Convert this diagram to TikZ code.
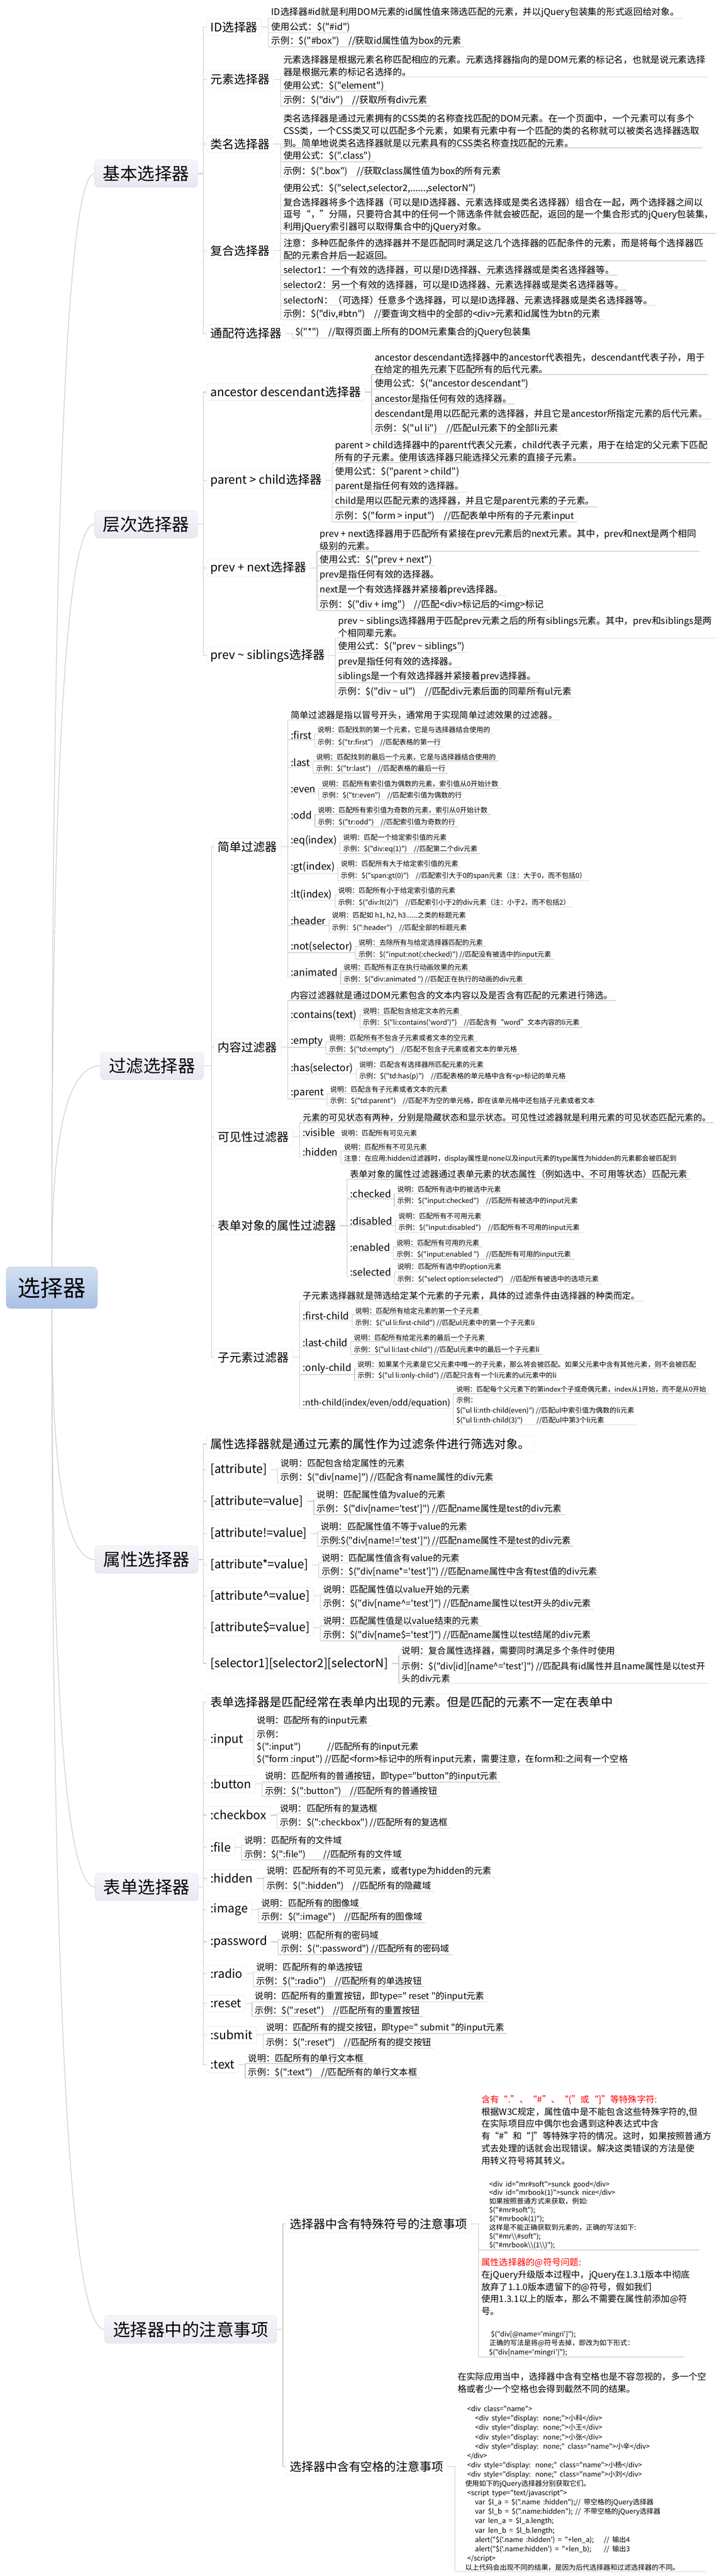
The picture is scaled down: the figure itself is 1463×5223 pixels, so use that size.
\documentclass[tikz,border=0pt]{standalone}
\usepackage{fontspec}
\newfontfamily\zh{Noto Sans CJK SC}
\usetikzlibrary{calc}
\definecolor{linkgray}{HTML}{C9C9C9}
\definecolor{ulgray}{HTML}{D7D7D7}
\definecolor{toptop}{HTML}{F5F5FA}
\definecolor{topbot}{HTML}{E8E8F2}
\definecolor{topline}{HTML}{D9D9E4}
\definecolor{subline}{HTML}{DDDDDD}
\definecolor{roottop}{HTML}{D3E0F2}
\definecolor{rootbot}{HTML}{A8C0E6}
\definecolor{rootline}{HTML}{A3B9DC}
\tikzset{
  root/.style={draw=rootline, top color=roottop, bottom color=rootbot, rounded corners=9pt, minimum width=185pt, minimum height=84pt, font=\zh\fontsize{46}{50}\selectfont},
  topic/.style={draw=topline, top color=toptop, bottom color=topbot, rounded corners=8pt, anchor=east, minimum height=56pt, inner xsep=17pt, inner ysep=2pt, font=\zh\fontsize{35}{40}\selectfont},
  sub/.style={draw=subline, fill=white, rounded corners=5pt, anchor=west, minimum height=34pt, inner xsep=8pt, inner ysep=2pt, font=\zh\fontsize{24}{28}\selectfont},
  leafbase/.style={anchor=south west, inner xsep=6pt, inner ysep=1.5pt, align=left, font=\zh\fontsize{18}{25}\selectfont, append after command={(\tikzlastnode.south west) edge[uline] (\tikzlastnode.south east)}},
  leaf/.style={leafbase, xshift=13.5pt},
  bigleaf/.style={leaf, font=\zh\fontsize{18.5}{25}\selectfont},
  flabel/.style={leaf, font=\zh\fontsize{20}{24}\selectfont},
  tiny/.style={leafbase, font=\zh\fontsize{14}{20.3}\selectfont},
  note/.style={leafbase, xshift=14.5pt},
  link/.style={draw=linkgray, line width=1.2pt},
  uline/.style={draw=ulgray, line width=1.5pt},
}
\begin{document}
\begin{tikzpicture}[x=1pt,y=-1pt]
\path[fill=white, use as bounding box] (0,0) rectangle (1463,5223);

\node[root] (root) at (105,2611) {选择器};
\node[topic] (jiben) at (401,352) {基本选择器};
\node[topic] (cengci) at (401,1063) {层次选择器};
\node[topic] (guolv) at (413,2161) {过滤选择器};
\node[topic] (shuxing) at (402,3162) {属性选择器};
\node[topic] (biaodan) at (402,3826) {表单选择器};
\node[topic] (zhuyi) at (561,4723) {选择器中的注意事项};

\node[sub] (idsel) at (418.5,55) {ID选择器};
\node[bigleaf] (i1) at (idsel.east |- 0,37) {ID选择器\#id就是利用DOM元素的id属性值来筛选匹配的元素，并以jQuery包装集的形式返回给对象。};
\node[bigleaf] (i2) at (idsel.east |- 0,66.5) {使用公式：\$("\#id")};
\node[bigleaf] (i3) at (idsel.east |- 0,95) {示例：\$("\#box")\quad //获取id属性值为box的元素};
\node[sub] (elsel) at (418.5,161) {元素选择器};
\node[bigleaf] (e1) at (elsel.east |- 0,156) {元素选择器是根据元素名称匹配相应的元素。元素选择器指向的是DOM元素的标记名，也就是说元素选择\\器是根据元素的标记名选择的。};
\node[bigleaf] (e2) at (elsel.east |- 0,185) {使用公式：\$("element")};
\node[bigleaf] (e3) at (elsel.east |- 0,215) {示例：\$("div")\quad //获取所有div元素};
\node[sub] (clsel) at (418.5,292) {类名选择器};
\node[bigleaf] (c1) at (clsel.east |- 0,300) {类名选择器是通过元素拥有的CSS类的名称查找匹配的DOM元素。在一个页面中，一个元素可以有多个\\CSS类，一个CSS类又可以匹配多个元素，如果有元素中有一个匹配的类的名称就可以被类名选择器选取\\到。简单地说类名选择器就是以元素具有的CSS类名称查找匹配的元素。};
\node[bigleaf] (c2) at (clsel.east |- 0,328) {使用公式：\$(".class")};
\node[bigleaf] (c3) at (clsel.east |- 0,359) {示例：\$(".box")\quad //获取class属性值为box的所有元素};
\node[sub] (cmsel) at (418.5,508) {复合选择器};
\node[bigleaf] (m1) at (cmsel.east |- 0,393) {使用公式：\$("select,selector2,......,selectorN")};
\node[bigleaf] (m2) at (cmsel.east |- 0,473) {复合选择器将多个选择器（可以是ID选择器、元素选择或是类名选择器）组合在一起，两个选择器之间以\\逗号“，”分隔，只要符合其中的任何一个筛选条件就会被匹配，返回的是一个集合形式的jQuery包装集，\\利用jQuery索引器可以取得集合中的jQuery对象。};
\node[bigleaf] (m3) at (cmsel.east |- 0,528.5) {注意：多种匹配条件的选择器并不是匹配同时满足这几个选择器的匹配条件的元素，而是将每个选择器匹\\配的元素合并后一起返回。};
\node[bigleaf] (m4) at (cmsel.east |- 0,558) {selector1：一个有效的选择器，可以是ID选择器、元素选择器或是类名选择器等。};
\node[bigleaf] (m5) at (cmsel.east |- 0,588) {selector2：另一个有效的选择器，可以是ID选择器、元素选择器或是类名选择器等。};
\node[bigleaf] (m6) at (cmsel.east |- 0,619) {selectorN：（可选择）任意多个选择器，可以是ID选择器、元素选择器或是类名选择器等。};
\node[bigleaf] (m7) at (cmsel.east |- 0,648) {示例：\$("div,\#btn")\quad //要查询文档中的全部的<div>元素和id属性为btn的元素};
\node[sub] (allsel) at (418.5,676) {通配符选择器};
\node[bigleaf] (w1) at (allsel.east |- 0,686) {\$("*")\quad //取得页面上所有的DOM元素集合的jQuery包装集};

\node[sub] (anc) at (418.5,795) {ancestor descendant选择器};
\node[bigleaf] (n1) at (anc.east |- 0,759.5) {ancestor descendant选择器中的ancestor代表祖先，descendant代表子孙，用于\\在给定的祖先元素下匹配所有的后代元素。};
\node[bigleaf] (n2) at (anc.east |- 0,789) {使用公式：\$("ancestor descendant")};
\node[bigleaf] (n3) at (anc.east |- 0,819) {ancestor是指任何有效的选择器。};
\node[bigleaf] (n4) at (anc.east |- 0,849.5) {descendant是用以匹配元素的选择器，并且它是ancestor所指定元素的后代元素。};
\node[bigleaf] (n5) at (anc.east |- 0,880) {示例：\$("ul li")\quad //匹配ul元素下的全部li元素};
\node[sub] (pcs) at (418.5,974) {parent > child选择器};
\node[bigleaf] (p1) at (pcs.east |- 0,938) {parent > child选择器中的parent代表父元素，child代表子元素，用于在给定的父元素下匹配\\所有的子元素。使用该选择器只能选择父元素的直接子元素。};
\node[bigleaf] (p2) at (pcs.east |- 0,968) {使用公式：\$("parent > child")};
\node[bigleaf] (p3) at (pcs.east |- 0,998) {parent是指任何有效的选择器。};
\node[bigleaf] (p4) at (pcs.east |- 0,1028) {child是用以匹配元素的选择器，并且它是parent元素的子元素。};
\node[bigleaf] (p5) at (pcs.east |- 0,1058) {示例：\$("form > input")\quad //匹配表单中所有的子元素input};
\node[sub] (prv) at (418.5,1152) {prev + next选择器};
\node[bigleaf] (q1) at (prv.east |- 0,1117.5) {prev + next选择器用于匹配所有紧接在prev元素后的next元素。其中，prev和next是两个相同\\级别的元素。};
\node[bigleaf] (q2) at (prv.east |- 0,1147) {使用公式：\$("prev + next")};
\node[bigleaf] (q3) at (prv.east |- 0,1177.5) {prev是指任何有效的选择器。};
\node[bigleaf] (q4) at (prv.east |- 0,1208) {next是一个有效选择器并紧接着prev选择器。};
\node[bigleaf] (q5) at (prv.east |- 0,1238) {示例：\$("div + img")\quad //匹配<div>标记后的<img>标记};
\node[sub] (sib) at (418.5,1329) {prev \textasciitilde{} siblings选择器};
\node[bigleaf] (s1) at (sib.east |- 0,1293.6) {prev \textasciitilde{} siblings选择器用于匹配prev元素之后的所有siblings元素。其中，prev和siblings是两\\个相同辈元素。};
\node[bigleaf] (s2) at (sib.east |- 0,1323) {使用公式：\$("prev \textasciitilde{} siblings")};
\node[bigleaf] (s3) at (sib.east |- 0,1353.5) {prev是指任何有效的选择器。};
\node[bigleaf] (s4) at (sib.east |- 0,1384) {siblings是一个有效选择器并紧接着prev选择器。};
\node[bigleaf] (s5) at (sib.east |- 0,1414) {示例：\$("div \textasciitilde{} ul")\quad //匹配div元素后面的同辈所有ul元素};

\node[sub] (simple) at (433.5,1717) {简单过滤器};
\node[leaf] (sd) at (simple.east |- 0,1460) {简单过滤器是指以冒号开头，通常用于实现简单过滤效果的过滤器。};
\node[flabel] (fst) at (simple.east |- 0,1500) {:first};
\node[tiny] (fsta) at (fst.south east |- 0,1488) {说明：匹配找到的第一个元素，它是与选择器结合使用的};
\node[tiny] (fstb) at (fst.south east |- 0,1514) {示例：\$("tr:first")\quad //匹配表格的第一行};
\node[flabel] (lst) at (simple.east |- 0,1556) {:last};
\node[tiny] (lsta) at (lst.south east |- 0,1543) {说明：匹配找到的最后一个元素，它是与选择器结合使用的};
\node[tiny] (lstb) at (lst.south east |- 0,1568) {示例：\$("tr:last")\quad //匹配表格的最后一行};
\node[flabel] (evn) at (simple.east |- 0,1609) {:even};
\node[tiny] (evna) at (evn.south east |- 0,1598) {说明：匹配所有索引值为偶数的元素，索引值从0开始计数};
\node[tiny] (evnb) at (evn.south east |- 0,1622) {示例：\$("tr:even")\quad //匹配索引值为偶数的行};
\node[flabel] (od) at (simple.east |- 0,1662.6) {:odd};
\node[tiny] (oda) at (od.south east |- 0,1651.5) {说明：匹配所有索引值为奇数的元素，索引从0开始计数};
\node[tiny] (odb) at (od.south east |- 0,1676.6) {示例：\$("tr:odd")\quad //匹配索引值为奇数的行};
\node[flabel] (eqi) at (simple.east |- 0,1717) {:eq(index)};
\node[tiny] (eqia) at (eqi.south east |- 0,1706.5) {说明：匹配一个给定索引值的元素};
\node[tiny] (eqib) at (eqi.south east |- 0,1731) {示例：\$("div:eq(1)")\quad //匹配第二个div元素};
\node[flabel] (gti) at (simple.east |- 0,1771) {:gt(index)};
\node[tiny] (gtia) at (gti.south east |- 0,1759.6) {说明：匹配所有大于给定索引值的元素};
\node[tiny] (gtib) at (gti.south east |- 0,1785.5) {示例：\$("span:gt(0)")\quad //匹配索引大于0的span元素（注：大于0，而不包括0）};
\node[flabel] (lti) at (simple.east |- 0,1825.6) {:lt(index)};
\node[tiny] (ltia) at (lti.south east |- 0,1814) {说明：匹配所有小于给定索引值的元素};
\node[tiny] (ltib) at (lti.south east |- 0,1839) {示例：\$("div:lt(2)")\quad //匹配索引小于2的div元素（注：小于2，而不包括2）};
\node[flabel] (hdr) at (simple.east |- 0,1876) {:header};
\node[tiny] (hdra) at (hdr.south east |- 0,1865) {说明：匹配如 h1, h2, h3......之类的标题元素};
\node[tiny] (hdrb) at (hdr.south east |- 0,1890) {示例：\$(":header")\quad //匹配全部的标题元素};
\node[flabel] (nts) at (simple.east |- 0,1931.5) {:not(selector)};
\node[tiny] (ntsa) at (nts.south east |- 0,1919) {说明：去除所有与给定选择器匹配的元素};
\node[tiny] (ntsb) at (nts.south east |- 0,1945) {示例：\$("input:not(:checked)") //匹配没有被选中的input元素};
\node[flabel] (ani) at (simple.east |- 0,1981) {:animated};
\node[tiny] (ania) at (ani.south east |- 0,1969) {说明：匹配所有正在执行动画效果的元素};
\node[tiny] (anib) at (ani.south east |- 0,1995) {示例：\$("div:animated ") //匹配正在执行的动画的div元素};

\node[sub] (content) at (433.5,2123) {内容过滤器};
\node[leaf] (cd) at (content.east |- 0,2028.5) {内容过滤器就是通过DOM元素包含的文本内容以及是否含有匹配的元素进行筛选。};
\node[flabel] (ctn) at (content.east |- 0,2070) {:contains(text)};
\node[tiny] (ctna) at (ctn.south east |- 0,2058) {说明：匹配包含给定文本的元素};
\node[tiny] (ctnb) at (ctn.south east |- 0,2083) {示例：\$("li:contains('word')")\quad //匹配含有“word”文本内容的li元素};
\node[flabel] (emp) at (content.east |- 0,2123.6) {:empty};
\node[tiny] (empa) at (emp.south east |- 0,2112) {说明：匹配所有不包含子元素或者文本的空元素};
\node[tiny] (empb) at (emp.south east |- 0,2137) {示例：\$("td:empty")\quad //匹配不包含子元素或者文本的单元格};
\node[flabel] (has) at (content.east |- 0,2177.5) {:has(selector)};
\node[tiny] (hasa) at (has.south east |- 0,2166.7) {说明：匹配含有选择器所匹配元素的元素};
\node[tiny] (hasb) at (has.south east |- 0,2192) {示例：\$("td:has(p)")\quad //匹配表格的单元格中含有<p>标记的单元格};
\node[flabel] (prt) at (content.east |- 0,2228) {:parent};
\node[tiny] (prta) at (prt.south east |- 0,2217) {说明：匹配含有子元素或者文本的元素};
\node[tiny] (prtb) at (prt.south east |- 0,2242) {示例：\$("td:parent")\quad //匹配不为空的单元格，即在该单元格中还包括子元素或者文本};

\node[sub] (visible) at (433.5,2305) {可见性过滤器};
\node[leaf, font=\zh\fontsize{17.6}{24}\selectfont] (vd) at (visible.east |- 0,2276) {元素的可见状态有两种，分别是隐藏状态和显示状态。可见性过滤器就是利用元素的可见状态匹配元素的。};
\node[flabel] (vis) at (visible.east |- 0,2306) {:visible};
\node[tiny] (visa) at (vis.south east |- 0,2306) {说明：匹配所有可见元素};
\node[flabel] (hid) at (visible.east |- 0,2345.5) {:hidden};
\node[tiny] (hida) at (hid.south east |- 0,2333.6) {说明：匹配所有不可见元素};
\node[tiny] (hidb) at (hid.south east |- 0,2359) {注意：在应用:hidden过滤器时，display属性是none以及input元素的type属性为hidden的元素都会被匹配到};

\node[sub] (formattr) at (433.5,2485) {表单对象的属性过滤器};
\node[leaf] (fd) at (formattr.east |- 0,2391) {表单对象的属性过滤器通过表单元素的状态属性（例如选中、不可用等状态）匹配元素};
\node[flabel] (chk) at (formattr.east |- 0,2430.6) {:checked};
\node[tiny] (chka) at (chk.south east |- 0,2420) {说明：匹配所有选中的被选中元素};
\node[tiny] (chkb) at (chk.south east |- 0,2445) {示例：\$("input:checked")\quad //匹配所有被选中的input元素};
\node[flabel] (dis) at (formattr.east |- 0,2485) {:disabled};
\node[tiny] (disa) at (dis.south east |- 0,2474) {说明：匹配所有不可用元素};
\node[tiny] (disb) at (dis.south east |- 0,2499) {示例：\$("input:disabled")\quad //匹配所有不可用的input元素};
\node[flabel] (ena) at (formattr.east |- 0,2539) {:enabled};
\node[tiny] (enaa) at (ena.south east |- 0,2528) {说明：匹配所有可用的元素};
\node[tiny] (enab) at (ena.south east |- 0,2553) {示例：\$("input:enabled ")\quad //匹配所有可用的input元素};
\node[flabel] (slc) at (formattr.east |- 0,2589) {:selected};
\node[tiny] (slca) at (slc.south east |- 0,2578.5) {说明：匹配所有选中的option元素};
\node[tiny] (slcb) at (slc.south east |- 0,2603.6) {示例：\$("select option:selected")\quad //匹配所有被选中的选项元素};

\node[sub] (chf) at (433.5,2752) {子元素过滤器};
\node[leaf] (chd) at (chf.east |- 0,2638) {子元素选择器就是筛选给定某个元素的子元素，具体的过滤条件由选择器的种类而定。};
\node[flabel] (fch) at (chf.east |- 0,2678) {:first-child};
\node[tiny] (fcha) at (fch.south east |- 0,2666) {说明：匹配所有给定元素的第一个子元素};
\node[tiny] (fchb) at (fch.south east |- 0,2691.6) {示例：\$("ul li:first-child") //匹配ul元素中的第一个子元素li};
\node[flabel] (lch) at (chf.east |- 0,2732) {:last-child};
\node[tiny] (lcha) at (lch.south east |- 0,2720) {说明：匹配所有给定元素的最后一个子元素};
\node[tiny] (lchb) at (lch.south east |- 0,2746) {示例：\$("ul li:last-child") //匹配ul元素中的最后一个子元素li};
\node[flabel] (och) at (chf.east |- 0,2787) {:only-child};
\node[tiny] (ocha) at (och.south east |- 0,2775) {说明：如果某个元素是它父元素中唯一的子元素，那么将会被匹配。如果父元素中含有其他元素，则不会被匹配};
\node[tiny] (ochb) at (och.south east |- 0,2799) {示例：\$("ul li:only-child") //匹配只含有一个li元素的ul元素中的li};
\node[flabel, font=\zh\fontsize{17.5}{24}\selectfont] (nch) at (chf.east |- 0,2855.6) {:nth-child(index/even/odd/equation)};
\node[tiny, font=\zh\fontsize{13.6}{20.3}\selectfont] (ncha) at (nch.south east |- 0,2825.5) {说明：匹配每个父元素下的第index个子或奇偶元素，index从1开始，而不是从0开始};
\node[tiny] (nchb) at (nch.south east |- 0,2889) {示例：\\\$("ul li:nth-child(even)") //匹配ul中索引值为偶数的li元素\\\$("ul li:nth-child(3)")\qquad //匹配ul中第3个li元素};

\node[sub] (adesc) at (418.5,2928) {属性选择器就是通过元素的属性作为过滤条件进行筛选对象。};
\node[sub] (at1) at (418.5,2980) {[attribute]};
\node[leaf] (at1a) at (at1.east |- 0,2976.6) {说明：匹配包含给定属性的元素};
\node[leaf] (at1b) at (at1.east |- 0,3007) {示例：\$("div[name]") //匹配含有name属性的div元素};
\node[sub] (at2) at (418.5,3044) {[attribute=value]};
\node[leaf] (at2a) at (at2.east |- 0,3040.5) {说明：匹配属性值为value的元素};
\node[leaf] (at2b) at (at2.east |- 0,3071) {示例：\$("div[name='test']") //匹配name属性是test的div元素};
\node[sub] (at3) at (418.5,3109) {[attribute!=value]};
\node[leaf] (at3a) at (at3.east |- 0,3105) {说明：匹配属性值不等于value的元素};
\node[leaf] (at3b) at (at3.east |- 0,3135) {示例:\$("div[name!='test']") //匹配name属性不是test的div元素};
\node[sub] (at4) at (418.5,3172.6) {[attribute*=value]};
\node[leaf] (at4a) at (at4.east |- 0,3169) {说明：匹配属性值含有value的元素};
\node[leaf] (at4b) at (at4.east |- 0,3198.5) {示例：\$("div[name*='test']") //匹配name属性中含有test值的div元素};
\node[sub] (at5) at (418.5,3236) {[attribute\textasciicircum=value]};
\node[leaf] (at5a) at (at5.east |- 0,3232.6) {说明：匹配属性值以value开始的元素};
\node[leaf] (at5b) at (at5.east |- 0,3263) {示例：\$("div[name\textasciicircum='test']") //匹配name属性以test开头的div元素};
\node[sub] (at6) at (418.5,3300) {[attribute\$=value]};
\node[leaf] (at6a) at (at6.east |- 0,3296.5) {说明：匹配属性值是以value结束的元素};
\node[leaf] (at6b) at (at6.east |- 0,3327) {示例：\$("div[name\$='test']") //匹配name属性以test结尾的div元素};
\node[sub] (at7) at (418.5,3373) {[selector1][selector2][selectorN]};
\node[leaf] (at7a) at (at7.east |- 0,3357) {说明：复合属性选择器，需要同时满足多个条件时使用};
\node[leaf] (at7b) at (at7.east |- 0,3413) {示例：\$("div[id][name\textasciicircum='test']") //匹配具有id属性并且name属性是以test开\\头的div元素};

\node[sub] (fdesc) at (418.5,3451) {表单选择器是匹配经常在表单内出现的元素。但是匹配的元素不一定在表单中};
\node[sub] (fin) at (418.5,3527.7) {:input};
\node[leaf] (fina) at (fin.east |- 0,3500) {说明：匹配所有的input元素};
\node[leaf] (finb) at (fin.east |- 0,3579) {示例：\\\$(":input")\qquad\quad //匹配所有的input元素\\\$("form :input") //匹配<form>标记中的所有input元素，需要注意，在form和:之间有一个空格};
\node[sub] (fbt) at (418.5,3617) {:button};
\node[leaf] (fbta) at (fbt.east |- 0,3613) {说明：匹配所有的普通按钮，即type="button"的input元素};
\node[leaf] (fbtb) at (fbt.east |- 0,3642.6) {示例：\$(":button")\quad //匹配所有的普通按钮};
\node[sub] (fcb) at (418.5,3680) {:checkbox};
\node[leaf] (fcba) at (fcb.east |- 0,3676.7) {说明：匹配所有的复选框};
\node[leaf] (fcbb) at (fcb.east |- 0,3706.5) {示例：\$(":checkbox") //匹配所有的复选框};
\node[sub] (ffl) at (418.5,3745) {:file};
\node[leaf] (ffla) at (ffl.east |- 0,3741) {说明：匹配所有的文件域};
\node[leaf] (fflb) at (ffl.east |- 0,3771) {示例：\$(":file")\qquad //匹配所有的文件域};
\node[sub] (fhd) at (418.5,3808.5) {:hidden};
\node[leaf] (fhda) at (fhd.east |- 0,3806) {说明：匹配所有的不可见元素，或者type为hidden的元素};
\node[leaf] (fhdb) at (fhd.east |- 0,3835) {示例：\$(":hidden")\quad //匹配所有的隐藏域};
\node[sub] (fim) at (418.5,3872) {:image};
\node[leaf] (fima) at (fim.east |- 0,3869) {说明：匹配所有的图像域};
\node[leaf] (fimb) at (fim.east |- 0,3898.5) {示例：\$(":image")\quad //匹配所有的图像域};
\node[sub] (fpw) at (418.5,3937) {:password};
\node[leaf] (fpwa) at (fpw.east |- 0,3933) {说明：匹配所有的密码域};
\node[leaf] (fpwb) at (fpw.east |- 0,3963) {示例：\$(":password") //匹配所有的密码域};
\node[sub] (frd) at (418.5,4001) {:radio};
\node[leaf] (frda) at (frd.east |- 0,3998) {说明：匹配所有的单选按钮};
\node[leaf] (frdb) at (frd.east |- 0,4028) {示例：\$(":radio")\quad //匹配所有的单选按钮};
\node[sub] (frs) at (418.5,4062) {:reset};
\node[leaf] (frsa) at (frs.east |- 0,4059) {说明：匹配所有的重置按钮，即type=" reset "的input元素};
\node[leaf] (frsb) at (frs.east |- 0,4088.5) {示例：\$(":reset")\quad //匹配所有的重置按钮};
\node[sub] (fsb) at (418.5,4126) {:submit};
\node[leaf] (fsba) at (fsb.east |- 0,4123) {说明：匹配所有的提交按钮，即type=" submit "的input元素};
\node[leaf] (fsbb) at (fsb.east |- 0,4153) {示例：\$(":reset")\quad //匹配所有的提交按钮};
\node[sub] (ftx) at (418.5,4186) {:text};
\node[leaf] (ftxa) at (ftx.east |- 0,4183.6) {说明：匹配所有的单行文本框};
\node[leaf] (ftxb) at (ftx.east |- 0,4213) {示例：\$(":text")\quad //匹配所有的单行文本框};

\node[sub] (sp) at (579,4509) {选择器中含有特殊符号的注意事项};
\node[note, text width=435pt] (sp1) at (sp.east |- 0,4561.6) {\fontsize{18}{25}\selectfont
\textcolor{red}{含有“.”、“\#”、“(”或“]”等特殊字符:}\\
根据W3C规定，属性值中是不能包含这些特殊字符的,但\\
在实际项目应中偶尔也会遇到这种表达式中含\\
有“\#”和“]”等特殊字符的情况。这时，如果按照普通方\\
式去处理的话就会出现错误。解决这类错误的方法是使\\
用转义符号将其转义。\par
\vspace{27.5pt}\fontsize{14}{17.7}\selectfont
\hspace*{15.5pt}<div id="mr\#soft">sunck good</div>\\
\hspace*{15.5pt}<div id="mrbook(1)">sunck nice</div>\\
\hspace*{15.5pt}如果按照普通方式来获取，例如:\\
\hspace*{15.5pt}\$("\#mr\#soft");\\
\hspace*{15.5pt}\$("\#mrbook(1)");\\
\hspace*{15.5pt}这样是不能正确获取到元素的，正确的写法如下:\\
\hspace*{15.5pt}\$("\#mr\textbackslash\textbackslash\#soft");\\
\hspace*{15.5pt}\$("\#mrbook\textbackslash\textbackslash(1\textbackslash\textbackslash)");\par
\vspace*{10.5pt}};
\node[note, text width=404pt] (sp2) at (sp.east |- 0,4779) {\fontsize{18}{25}\selectfont
\textcolor{red}{属性选择器的@符号问题:}\\
在jQuery升级版本过程中，jQuery在1.3.1版本中彻底\\
放弃了1.1.0版本遗留下的@符号，假如我们\\
使用1.3.1以上的版本，那么不需要在属性前添加@符\\
号。\par
\vspace{26pt}\fontsize{14}{18.2}\selectfont
\hspace*{19pt}\$("div[@name='mingri']");\\
\hspace*{16pt}正确的写法是将@符号去掉，即改为如下形式：\\
\hspace*{15pt}\$("div[name='mingri']");\par
\vspace*{10.5pt}};
\node[sub] (spc) at (579,5001) {选择器中含有空格的注意事项};
\node[note, text width=497pt] (spc1) at (spc.east |- 0,5214) {\fontsize{18}{25}\selectfont
在实际应用当中，选择器中含有空格也是不容忽视的，多一个空\\
格或者少一个空格也会得到截然不同的结果。\par
\vspace{20.2pt}\fontsize{14}{18.9}\selectfont
\hspace*{19pt}<div class="name">\\
\hspace*{35pt}<div style="display: none;">小科</div>\\
\hspace*{35pt}<div style="display: none;">小王</div>\\
\hspace*{35pt}<div style="display: none;">小张</div>\\
\hspace*{35pt}<div style="display: none;" class="name">小辛</div>\\
\hspace*{19pt}</div>\\
\hspace*{19pt}<div style="display: none;" class="name">小杨</div>\\
\hspace*{19pt}<div style="display: none;" class="name">小刘</div>\\
\hspace*{15pt}使用如下的jQuery选择器分别获取它们。\\
\hspace*{19pt}<script type="text/javascript">\\
\hspace*{35pt}\makebox[203pt][l]{var \$l\_a = \$(".name :hidden");}// 带空格的jQuery选择器\\
\hspace*{35pt}\makebox[203pt][l]{var \$l\_b = \$(".name:hidden");}// 不带空格的jQuery选择器\\
\hspace*{35pt}var len\_a = \$l\_a.length;\\
\hspace*{35pt}var len\_b = \$l\_b.length;\\
\hspace*{35pt}\makebox[261pt][l]{alert("\$('.name :hidden') = "+len\_a);}// 输出4\\
\hspace*{35pt}\makebox[261pt][l]{alert("\$('.name:hidden') = "+len\_b);}// 输出3\\
\hspace*{19pt}</script>\\
\hspace*{15pt}以上代码会出现不同的结果，是因为后代选择器和过滤选择器的不同。\par
\vspace*{16.5pt}};

\draw[link] (root.north) .. controls ($(root.north)!.67!(root.north |- jiben.west)$) and ($(jiben.west)!.67!(root.north |- jiben.west)$) .. (jiben.west);
\draw[link] (root.north) .. controls ($(root.north)!.67!(root.north |- cengci.west)$) and ($(cengci.west)!.67!(root.north |- cengci.west)$) .. (cengci.west);
\draw[link] (root.north) .. controls ($(root.north)!.67!(root.north |- guolv.west)$) and ($(guolv.west)!.67!(root.north |- guolv.west)$) .. (guolv.west);
\draw[link] (root.south) .. controls ($(root.south)!.67!(root.south |- shuxing.west)$) and ($(shuxing.west)!.67!(root.south |- shuxing.west)$) .. (shuxing.west);
\draw[link] (root.south) .. controls ($(root.south)!.67!(root.south |- biaodan.west)$) and ($(biaodan.west)!.67!(root.south |- biaodan.west)$) .. (biaodan.west);
\draw[link] (root.south) .. controls ($(root.south)!.67!(root.south |- zhuyi.west)$) and ($(zhuyi.west)!.67!(root.south |- zhuyi.west)$) .. (zhuyi.west);

\draw[link] (jiben.east) -- ++(11.5,0) |- (idsel.west) (jiben.east) -- ++(11.5,0) |- (elsel.west) (jiben.east) -- ++(11.5,0) |- (clsel.west) (jiben.east) -- ++(11.5,0) |- (cmsel.west) (jiben.east) -- ++(11.5,0) |- (allsel.west);
\draw[link] (cengci.east) -- ++(11.5,0) |- (anc.west) (cengci.east) -- ++(11.5,0) |- (pcs.west) (cengci.east) -- ++(11.5,0) |- (prv.west) (cengci.east) -- ++(11.5,0) |- (sib.west);
\draw[link] (guolv.east) -- ++(16,0) |- (simple.west) (guolv.east) -- ++(16,0) |- (content.west) (guolv.east) -- ++(16,0) |- (visible.west) (guolv.east) -- ++(16,0) |- (formattr.west) (guolv.east) -- ++(16,0) |- (chf.west);
\draw[link] (shuxing.east) -- ++(10.5,0) |- (adesc.west) (shuxing.east) -- ++(10.5,0) |- (at1.west) (shuxing.east) -- ++(10.5,0) |- (at2.west) (shuxing.east) -- ++(10.5,0) |- (at3.west) (shuxing.east) -- ++(10.5,0) |- (at4.west) (shuxing.east) -- ++(10.5,0) |- (at5.west) (shuxing.east) -- ++(10.5,0) |- (at6.west) (shuxing.east) -- ++(10.5,0) |- (at7.west);
\draw[link] (biaodan.east) -- ++(10.5,0) |- (fdesc.west) (biaodan.east) -- ++(10.5,0) |- (fin.west) (biaodan.east) -- ++(10.5,0) |- (fbt.west) (biaodan.east) -- ++(10.5,0) |- (fcb.west) (biaodan.east) -- ++(10.5,0) |- (ffl.west) (biaodan.east) -- ++(10.5,0) |- (fhd.west) (biaodan.east) -- ++(10.5,0) |- (fim.west) (biaodan.east) -- ++(10.5,0) |- (fpw.west) (biaodan.east) -- ++(10.5,0) |- (frd.west) (biaodan.east) -- ++(10.5,0) |- (frs.west) (biaodan.east) -- ++(10.5,0) |- (fsb.west) (biaodan.east) -- ++(10.5,0) |- (ftx.west);
\draw[link] (zhuyi.east) -- ++(12.5,0) |- (sp.west) (zhuyi.east) -- ++(12.5,0) |- (spc.west);

\draw[link] (idsel.east) -| (i1.south west) (idsel.east) -| (i2.south west) (idsel.east) -| (i3.south west);
\draw[link] (elsel.east) -| (e1.south west) (elsel.east) -| (e2.south west) (elsel.east) -| (e3.south west);
\draw[link] (clsel.east) -| (c1.south west) (clsel.east) -| (c2.south west) (clsel.east) -| (c3.south west);
\draw[link] (cmsel.east) -| (m1.south west) (cmsel.east) -| (m4.south west) (cmsel.east) -| (m7.south west);
\draw[link] (allsel.east) -| (w1.south west);
\draw[link] (anc.east) -| (n1.south west) (anc.east) -| (n5.south west);
\draw[link] (pcs.east) -| (p1.south west) (pcs.east) -| (p5.south west);
\draw[link] (prv.east) -| (q1.south west) (prv.east) -| (q5.south west);
\draw[link] (sib.east) -| (s1.south west) (sib.east) -| (s5.south west);

\draw[link] (simple.east) -| (sd.south west) (simple.east) -| (ani.south west);
\draw[link] (fst.south east) -| (fsta.south west) (fst.south east) -| (fstb.south west);
\draw[link] (lst.south east) -| (lsta.south west) (lst.south east) -| (lstb.south west);
\draw[link] (evn.south east) -| (evna.south west) (evn.south east) -| (evnb.south west);
\draw[link] (od.south east) -| (oda.south west) (od.south east) -| (odb.south west);
\draw[link] (eqi.south east) -| (eqia.south west) (eqi.south east) -| (eqib.south west);
\draw[link] (gti.south east) -| (gtia.south west) (gti.south east) -| (gtib.south west);
\draw[link] (lti.south east) -| (ltia.south west) (lti.south east) -| (ltib.south west);
\draw[link] (hdr.south east) -| (hdra.south west) (hdr.south east) -| (hdrb.south west);
\draw[link] (nts.south east) -| (ntsa.south west) (nts.south east) -| (ntsb.south west);
\draw[link] (ani.south east) -| (ania.south west) (ani.south east) -| (anib.south west);
\draw[link] (content.east) -| (cd.south west) (content.east) -| (prt.south west);
\draw[link] (ctn.south east) -| (ctna.south west) (ctn.south east) -| (ctnb.south west);
\draw[link] (emp.south east) -| (empa.south west) (emp.south east) -| (empb.south west);
\draw[link] (has.south east) -| (hasa.south west) (has.south east) -| (hasb.south west);
\draw[link] (prt.south east) -| (prta.south west) (prt.south east) -| (prtb.south west);
\draw[link] (visible.east) -| (vd.south west) (visible.east) -| (hid.south west);
\draw[link] (vis.south east) -- (visa.south west);
\draw[link] (hid.south east) -| (hida.south west) (hid.south east) -| (hidb.south west);
\draw[link] (formattr.east) -| (fd.south west) (formattr.east) -| (slc.south west);
\draw[link] (chk.south east) -| (chka.south west) (chk.south east) -| (chkb.south west);
\draw[link] (dis.south east) -| (disa.south west) (dis.south east) -| (disb.south west);
\draw[link] (ena.south east) -| (enaa.south west) (ena.south east) -| (enab.south west);
\draw[link] (slc.south east) -| (slca.south west) (slc.south east) -| (slcb.south west);
\draw[link] (chf.east) -| (chd.south west) (chf.east) -| (nch.south west);
\draw[link] (fch.south east) -| (fcha.south west) (fch.south east) -| (fchb.south west);
\draw[link] (lch.south east) -| (lcha.south west) (lch.south east) -| (lchb.south west);
\draw[link] (och.south east) -| (ocha.south west) (och.south east) -| (ochb.south west);
\draw[link] (nch.south east) -| (ncha.south west) (nch.south east) -| (nchb.south west);

\draw[link] (at1.east) -| (at1a.south west) (at1.east) -| (at1b.south west);
\draw[link] (at2.east) -| (at2a.south west) (at2.east) -| (at2b.south west);
\draw[link] (at3.east) -| (at3a.south west) (at3.east) -| (at3b.south west);
\draw[link] (at4.east) -| (at4a.south west) (at4.east) -| (at4b.south west);
\draw[link] (at5.east) -| (at5a.south west) (at5.east) -| (at5b.south west);
\draw[link] (at6.east) -| (at6a.south west) (at6.east) -| (at6b.south west);
\draw[link] (at7.east) -| (at7a.south west) (at7.east) -| (at7b.south west);

\draw[link] (fin.east) -| (fina.south west) (fin.east) -| (finb.south west);
\draw[link] (fbt.east) -| (fbta.south west) (fbt.east) -| (fbtb.south west);
\draw[link] (fcb.east) -| (fcba.south west) (fcb.east) -| (fcbb.south west);
\draw[link] (ffl.east) -| (ffla.south west) (ffl.east) -| (fflb.south west);
\draw[link] (fhd.east) -| (fhda.south west) (fhd.east) -| (fhdb.south west);
\draw[link] (fim.east) -| (fima.south west) (fim.east) -| (fimb.south west);
\draw[link] (fpw.east) -| (fpwa.south west) (fpw.east) -| (fpwb.south west);
\draw[link] (frd.east) -| (frda.south west) (frd.east) -| (frdb.south west);
\draw[link] (frs.east) -| (frsa.south west) (frs.east) -| (frsb.south west);
\draw[link] (fsb.east) -| (fsba.south west) (fsb.east) -| (fsbb.south west);
\draw[link] (ftx.east) -| (ftxa.south west) (ftx.east) -| (ftxb.south west);

\draw[link] (sp.east) -| (sp1.south west) (sp.east) -| (sp2.south west);
\draw[link] (spc.east) -| (spc1.south west);
\end{tikzpicture}
\end{document}
